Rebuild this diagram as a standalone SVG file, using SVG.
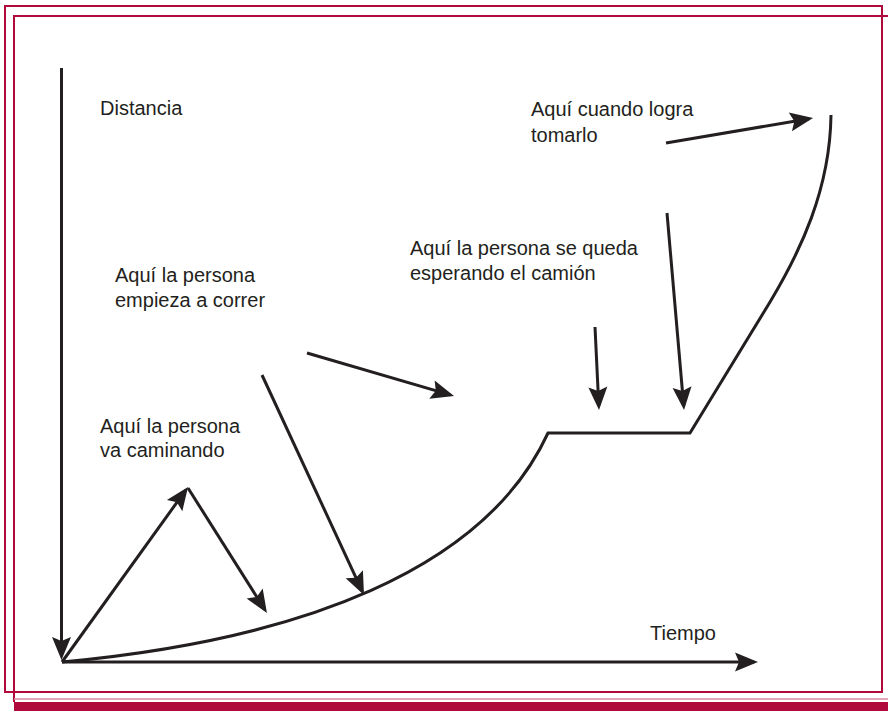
<svg xmlns="http://www.w3.org/2000/svg" width="888" height="711" viewBox="0 0 888 711">
<style>
.frame{fill:none;stroke:#b00a3c;stroke-width:2}
.ln{fill:none;stroke:#231f20;stroke-width:3;stroke-linecap:butt;stroke-linejoin:miter}
.arr{marker-end:url(#ah)}
text{font-family:"Liberation Sans",Arial,sans-serif;font-size:20px;fill:#231f20}
</style>
<defs>
<marker id="ah" markerUnits="userSpaceOnUse" viewBox="-20 -10 25 20" refX="0" refY="0" markerWidth="25" markerHeight="20" orient="auto" overflow="visible">
<path d="M4,0 L-19,-9.5 L-15,0 L-19,9.5 Z" fill="#231f20"/>
</marker>
</defs>
<rect width="888" height="711" fill="#fff"/>
<g id="frame">
<rect class="frame" x="5" y="6" width="877" height="686"/>
<path class="frame" d="M888,16 H14 V702"/>
<line x1="14" y1="699" x2="888" y2="699" stroke="#d88a9e" stroke-width="1.5"/>
<rect x="14" y="702" width="874" height="9" fill="#b00a3c"/>
</g>
<g id="connectors">
<line id="y-axis" class="ln arr" x1="61.5" y1="68" x2="61.5" y2="656"/>
<line id="x-axis" class="ln arr" x1="62" y1="662" x2="754" y2="662"/>
<path id="curve" class="ln" d="M62,662 C300,640 485,570 548,433 H690 L770,302 C800,252 830,190 831,115"/>
<line class="ln arr" x1="62" y1="662" x2="185.7" y2="490.2"/>
<line class="ln arr" x1="188" y1="488" x2="264.8" y2="609.6"/>
<line class="ln arr" x1="262" y1="375" x2="362.3" y2="591.4"/>
<line class="ln arr" x1="307" y1="353" x2="450.2" y2="394.9"/>
<line class="ln arr" x1="595" y1="327" x2="598.8" y2="406"/>
<line class="ln arr" x1="667" y1="213" x2="683.7" y2="406"/>
<line class="ln arr" x1="666" y1="143" x2="809.1" y2="118.7"/>
</g>
<g id="label-distancia"><text x="100" y="115">Distancia</text></g>
<g id="label-tiempo"><text x="650" y="640">Tiempo</text></g>
<g id="label-caminando"><text x="100" y="433">Aquí la persona</text><text x="100" y="457">va caminando</text></g>
<g id="label-correr"><text x="115" y="282">Aquí la persona</text><text x="115" y="307">empieza a correr</text></g>
<g id="label-esperando"><text x="410" y="255">Aquí la persona se queda</text><text x="410" y="280">esperando el camión</text></g>
<g id="label-tomarlo"><text x="531" y="116">Aquí cuando logra</text><text x="531" y="142">tomarlo</text></g>
</svg>
